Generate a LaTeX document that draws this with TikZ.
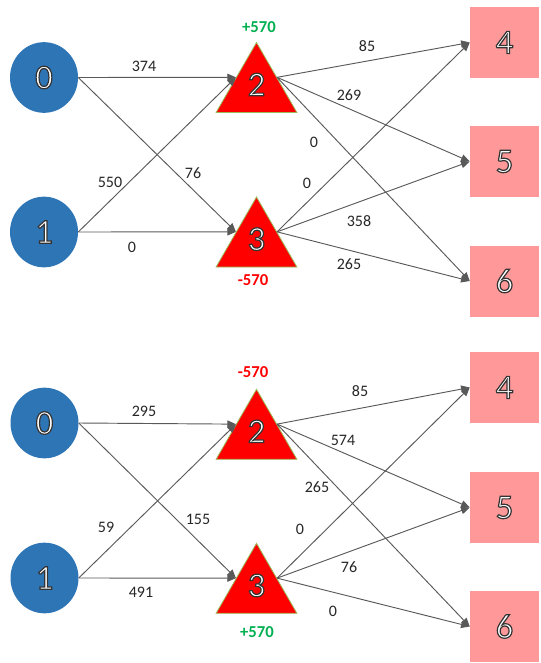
\documentclass[tikz,border=0pt]{standalone}
\usepackage{fontspec}
\setmainfont{Carlito}
\usetikzlibrary{arrows.meta,shapes.geometric}
\definecolor{cblue}{HTML}{2E75B6}
\definecolor{tred}{HTML}{FF0000}
\definecolor{tborder}{HTML}{9BBB59}
\definecolor{bpink}{HTML}{FF9999}
\definecolor{egray}{HTML}{595959}
\definecolor{pgreen}{HTML}{00B050}
\definecolor{lblc}{HTML}{262626}
\newcommand{\olt}[1]{{\color{white}\special{pdf:literal direct 2 Tr 0.9 w 0.2 0.2 0.2 RG}#1\special{pdf:literal direct 0 Tr}}}
\tikzset{
 bigtxt/.style={font=\fontsize{26}{26}\selectfont},
 src/.style={ellipse, fill=cblue, minimum width=51pt, minimum height=53pt, inner sep=0pt, bigtxt},
 mid/.style={regular polygon, regular polygon sides=3, fill=tred, draw=tborder, line width=0.6pt, minimum size=70pt, inner sep=0pt, bigtxt},
 snk/.style={rectangle, fill=bpink, minimum width=51.75pt, minimum height=53.25pt, inner sep=0pt, bigtxt},
 edge/.style={draw=egray, line width=0.7pt, -{Triangle[length=6.5pt,width=5.5pt]}},
 lbl/.style={font=\fontsize{12}{14}\selectfont, text=lblc, inner sep=0pt},
 plus/.style={font=\bfseries\fontsize{12.5}{14}\selectfont, text=pgreen, inner sep=0pt},
 minus/.style={font=\bfseries\fontsize{12.5}{14}\selectfont, text=tred, inner sep=0pt},
}
\begin{document}
\begin{tikzpicture}[x=0.75pt,y=-0.75pt]
\useasboundingbox (0,0) rectangle (540,663);
% ---------- top panel ----------
\node[src] (a0) at (44,77.5) {\olt{0}};
\node[src] (a1) at (44,232) {\olt{1}};
\node[mid] (a2) at (256.5,89.2) {\raisebox{7pt}{\olt{2}}};
\node[mid] (a3) at (256.5,243.7) {\raisebox{7pt}{\olt{3}}};
\node[snk] (a4) at (504.5,42.5) {\olt{4}};
\node[snk] (a5) at (504.5,161.5) {\olt{5}};
\node[snk] (a6) at (504.5,281) {\olt{6}};
\draw[edge] (a0.east) -- (a2.side 1);
\draw[edge] (a0.east) -- (a3.side 1);
\draw[edge] (a1.east) -- (a2.side 1);
\draw[edge] (a1.east) -- (a3.side 1);
\draw[edge] (a2.side 3) -- (a4.west);
\draw[edge] (a2.side 3) -- (a5.west);
\draw[edge] (a2.side 3) -- (a6.west);
\draw[edge] (a3.side 3) -- (a4.west);
\draw[edge] (a3.side 3) -- (a5.west);
\draw[edge] (a3.side 3) -- (a6.west);
\node[lbl] (la02) at (144,66) {374};
\node[lbl] (la03) at (193,173) {76};
\node[lbl] (la12) at (110,182) {550};
\node[lbl] (la13) at (132,247) {0};
\node[plus] (la2) at (259,27) {+570};
\node[minus] (la3) at (253,280) {-570};
\node[lbl] (la24) at (367,46) {85};
\node[lbl] (la25) at (349,95) {269};
\node[lbl] (la26) at (314,142) {0};
\node[lbl] (la34) at (307,183) {0};
\node[lbl] (la35) at (359,221) {358};
\node[lbl] (la36) at (349,264) {265};
% ---------- bottom panel ----------
\node[src] (b0) at (44.5,423) {\olt{0}};
\node[src] (b1) at (44.5,578) {\olt{1}};
\node[mid] (b2) at (256.5,436) {\raisebox{7pt}{\olt{2}}};
\node[mid] (b3) at (256.5,590) {\raisebox{7pt}{\olt{3}}};
\node[snk] (b4) at (504.5,387.5) {\olt{4}};
\node[snk] (b5) at (504.5,507.5) {\olt{5}};
\node[snk] (b6) at (504.5,626.5) {\olt{6}};
\draw[edge] (b0.east) -- (b2.side 1);
\draw[edge] (b0.east) -- (b3.side 1);
\draw[edge] (b1.east) -- (b2.side 1);
\draw[edge] (b1.east) -- (b3.side 1);
\draw[edge] (b2.side 3) -- (b4.west);
\draw[edge] (b2.side 3) -- (b5.west);
\draw[edge] (b2.side 3) -- (b6.west);
\draw[edge] (b3.side 3) -- (b4.west);
\draw[edge] (b3.side 3) -- (b5.west);
\draw[edge] (b3.side 3) -- (b6.west);
\node[lbl] (lb02) at (144,411) {295};
\node[lbl] (lb03) at (198,519) {155};
\node[lbl] (lb12) at (106,527) {59};
\node[lbl] (lb13) at (141,592) {491};
\node[minus] (lb2) at (253,372) {-570};
\node[plus] (lb3) at (257,632) {+570};
\node[lbl] (lb24) at (360,391) {85};
\node[lbl] (lb25) at (343,440) {574};
\node[lbl] (lb26) at (317,487) {265};
\node[lbl] (lb34) at (300,529) {0};
\node[lbl] (lb35) at (349,567) {76};
\node[lbl] (lb36) at (333,611) {0};
\end{tikzpicture}
\end{document}
